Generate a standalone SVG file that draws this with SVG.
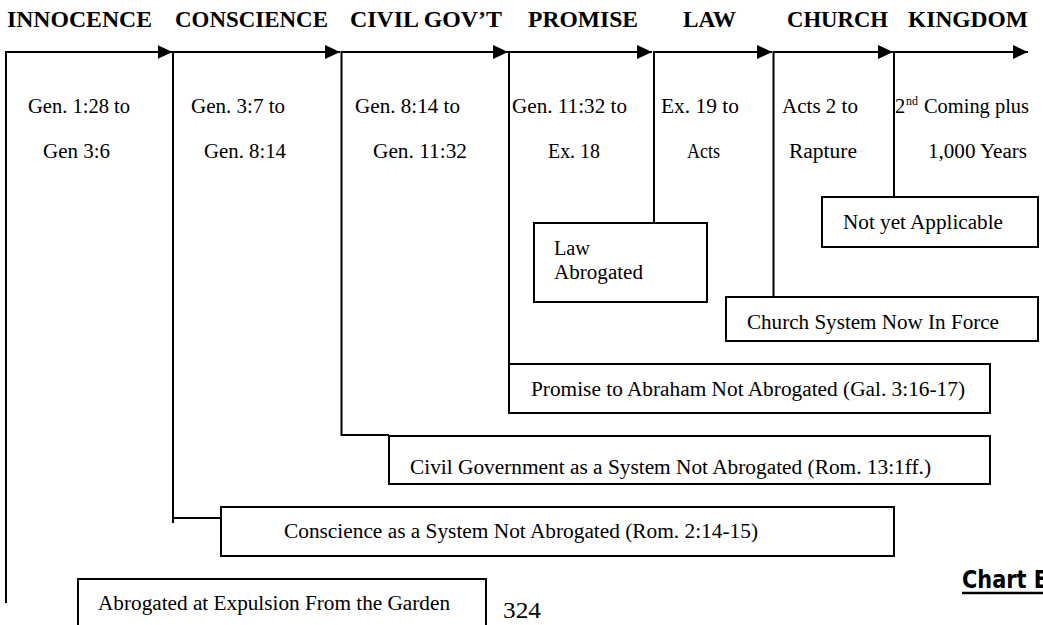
<svg xmlns="http://www.w3.org/2000/svg" width="1043" height="625" viewBox="0 0 1043 625">
<style>
.h{font-family:"Liberation Serif","Times New Roman",serif;font-weight:bold;font-size:23.5px;fill:#000}
.t{font-family:"Liberation Serif","Times New Roman",serif;font-size:20.5px;fill:#000}
.ln{stroke:#000;stroke-width:2;fill:none}
.bx{stroke:#000;stroke-width:2;fill:#fff}
.ch{font-family:"DejaVu Sans",sans-serif;font-weight:bold;font-size:24px;fill:#000}
</style>
<defs>
<marker id="ah" markerWidth="15" markerHeight="14" refX="15" refY="7" orient="auto" markerUnits="userSpaceOnUse">
<path d="M0,0 L15,7 L0,14 Z" fill="#000"/>
</marker>
</defs>
<rect width="1043" height="625" fill="#fff"/>

<g id="headings">
<text class="h" x="7" y="27" textLength="145" lengthAdjust="spacingAndGlyphs">INNOCENCE</text>
<text class="h" x="175" y="27" textLength="153" lengthAdjust="spacingAndGlyphs">CONSCIENCE</text>
<text class="h" x="350" y="27" textLength="152" lengthAdjust="spacingAndGlyphs">CIVIL GOV’T</text>
<text class="h" x="528" y="27" textLength="110" lengthAdjust="spacingAndGlyphs">PROMISE</text>
<text class="h" x="683" y="27" textLength="53" lengthAdjust="spacingAndGlyphs">LAW</text>
<text class="h" x="787" y="27" textLength="101" lengthAdjust="spacingAndGlyphs">CHURCH</text>
<text class="h" x="908" y="27" textLength="120" lengthAdjust="spacingAndGlyphs">KINGDOM</text>
</g>

<g id="connectors">
<line class="ln" x1="6" y1="52" x2="172.5" y2="52" marker-end="url(#ah)"/>
<line class="ln" x1="173" y1="52" x2="340" y2="52" marker-end="url(#ah)"/>
<line class="ln" x1="341.5" y1="52" x2="508" y2="52" marker-end="url(#ah)"/>
<line class="ln" x1="509" y1="52" x2="652" y2="52" marker-end="url(#ah)"/>
<line class="ln" x1="654" y1="52" x2="772" y2="52" marker-end="url(#ah)"/>
<line class="ln" x1="773.5" y1="52" x2="893" y2="52" marker-end="url(#ah)"/>
<line class="ln" x1="894" y1="52" x2="1028" y2="52" marker-end="url(#ah)"/>
<line class="ln" x1="6" y1="51" x2="6" y2="603"/>
<line class="ln" x1="173" y1="51" x2="173" y2="523"/>
<line class="ln" x1="173" y1="518" x2="221" y2="518"/>
<polyline class="ln" points="341.5,51 341.5,435 389,435"/>
<line class="ln" x1="509" y1="51" x2="509" y2="364"/>
<line class="ln" x1="654" y1="51" x2="654" y2="223"/>
<line class="ln" x1="773.5" y1="51" x2="773.5" y2="297"/>
<line class="ln" x1="894" y1="51" x2="894" y2="197"/>
</g>

<g id="periods">
<text class="t" x="28" y="113" textLength="102" lengthAdjust="spacingAndGlyphs">Gen. 1:28 to</text>
<text class="t" x="43" y="158" textLength="67" lengthAdjust="spacingAndGlyphs">Gen 3:6</text>
<text class="t" x="191" y="113" textLength="94" lengthAdjust="spacingAndGlyphs">Gen. 3:7 to</text>
<text class="t" x="204" y="158" textLength="82" lengthAdjust="spacingAndGlyphs">Gen. 8:14</text>
<text class="t" x="355" y="113" textLength="105" lengthAdjust="spacingAndGlyphs">Gen. 8:14 to</text>
<text class="t" x="373" y="158" textLength="94" lengthAdjust="spacingAndGlyphs">Gen. 11:32</text>
<text class="t" x="512" y="113" textLength="115" lengthAdjust="spacingAndGlyphs">Gen. 11:32 to</text>
<text class="t" x="548" y="158" textLength="52" lengthAdjust="spacingAndGlyphs">Ex. 18</text>
<text class="t" x="661" y="113" textLength="78" lengthAdjust="spacingAndGlyphs">Ex. 19 to</text>
<text class="t" x="687" y="158" textLength="33" lengthAdjust="spacingAndGlyphs">Acts</text>
<text class="t" x="782" y="113" textLength="76" lengthAdjust="spacingAndGlyphs">Acts 2 to</text>
<text class="t" x="789" y="158" textLength="68" lengthAdjust="spacingAndGlyphs">Rapture</text>
<text class="t" x="895" y="113">2</text>
<text class="t" x="906" y="105" style="font-size:12px">nd</text>
<text class="t" x="924" y="113" textLength="105" lengthAdjust="spacingAndGlyphs">Coming plus</text>
<text class="t" x="928" y="158" textLength="99" lengthAdjust="spacingAndGlyphs">1,000 Years</text>
</g>

<g id="law-box">
<rect class="bx" x="534" y="223" width="173" height="79"/>
<text class="t" x="554" y="255" textLength="36" lengthAdjust="spacingAndGlyphs">Law</text>
<text class="t" x="554" y="279" textLength="89" lengthAdjust="spacingAndGlyphs">Abrogated</text>
</g>

<g id="kingdom-box">
<rect class="bx" x="822" y="197" width="216" height="50"/>
<text class="t" x="843" y="229" textLength="160" lengthAdjust="spacingAndGlyphs">Not yet Applicable</text>
</g>

<g id="church-box">
<rect class="bx" x="726" y="297" width="312" height="44"/>
<text class="t" x="747" y="329" textLength="252" lengthAdjust="spacingAndGlyphs">Church System Now In Force</text>
</g>

<g id="promise-box">
<rect class="bx" x="509" y="364" width="481" height="49"/>
<text class="t" x="531" y="396" textLength="434" lengthAdjust="spacingAndGlyphs">Promise to Abraham Not Abrogated (Gal. 3:16-17)</text>
</g>

<g id="civil-box">
<rect class="bx" x="389" y="436" width="601" height="48"/>
<text class="t" x="410" y="474" textLength="521" lengthAdjust="spacingAndGlyphs">Civil Government as a System Not Abrogated (Rom. 13:1ff.)</text>
</g>

<g id="conscience-box">
<rect class="bx" x="221" y="507" width="673" height="49"/>
<text class="t" x="284" y="538" textLength="474" lengthAdjust="spacingAndGlyphs">Conscience as a System Not Abrogated (Rom. 2:14-15)</text>
</g>

<g id="innocence-box">
<rect class="bx" x="78" y="579" width="408" height="60"/>
<text class="t" x="98" y="610" textLength="352" lengthAdjust="spacingAndGlyphs">Abrogated at Expulsion From the Garden</text>
</g>

<g id="footer">
<text class="t" x="503" y="618" style="font-size:24px" textLength="38" lengthAdjust="spacingAndGlyphs">324</text>
<text class="ch" x="962" y="588" textLength="86" lengthAdjust="spacingAndGlyphs">Chart E</text>
<line x1="962" y1="593" x2="1043" y2="593" stroke="#000" stroke-width="2.5"/>
</g>
</svg>
